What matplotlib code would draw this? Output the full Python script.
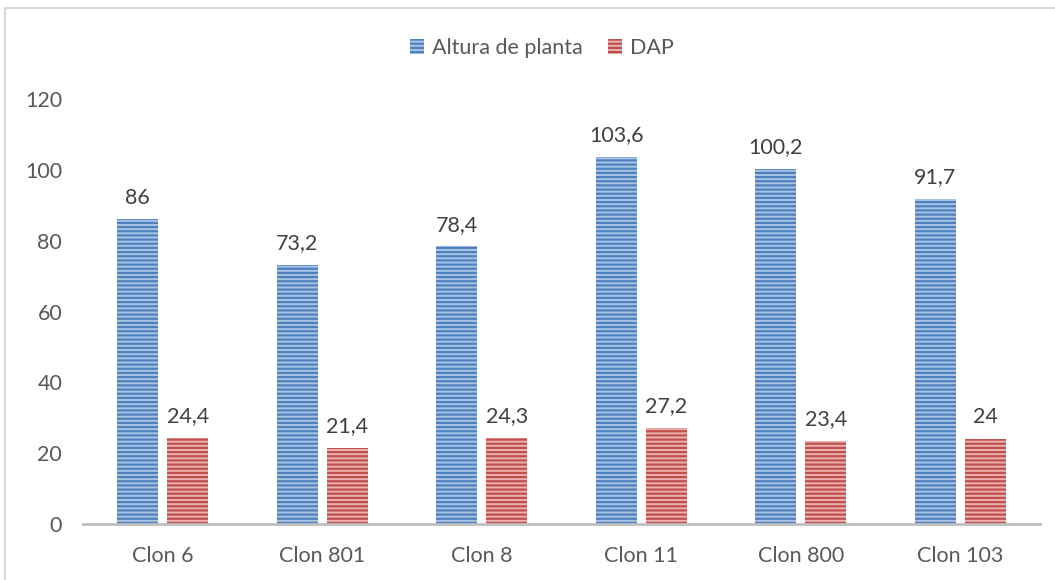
import matplotlib
matplotlib.use('Agg')
import matplotlib.pyplot as plt
import numpy as np
from matplotlib.patches import Rectangle

# datos del grafico
clones = ['Clon 6', 'Clon 801', 'Clon 8', 'Clon 11', 'Clon 800', 'Clon 103']
altura = [86, 73.2, 78.4, 103.6, 100.2, 91.7]
dap = [24.4, 21.4, 24.3, 27.2, 23.4, 24]
etiq_altura = ['86', '73,2', '78,4', '103,6', '100,2', '91,7']
etiq_dap = ['24,4', '21,4', '24,3', '27,2', '23,4', '24']

plt.rcParams['font.family'] = ['Lato', 'DejaVu Sans']
plt.rcParams['hatch.linewidth'] = 1.6
gris = '#595959'

fig = plt.figure(figsize=(10.55, 5.8), dpi=100)
# borde gris del area del grafico
fig.patches.append(Rectangle((5/1055, -0.1), 1.2, 1 - 8/580 + 0.1, transform=fig.transFigure,
                             fill=False, edgecolor='#d9d9d9', linewidth=1.5))
ax = fig.add_axes([83/1055, 1 - 524/580, (1040 - 83)/1055, (524 - 99)/580])

x = np.arange(len(clones))
w = 0.257
sep = 0.056
b1 = ax.bar(x - (w + sep)/2, altura, w, color='#a9c3e6', edgecolor='#4f81bd',
            linewidth=0, hatch='----', label='Altura de planta')
b2 = ax.bar(x + (w + sep)/2, dap, w, color='#ebb1b0', edgecolor='#c0504d',
            linewidth=0, hatch='----', label='DAP')

for i in range(len(clones)):
    ax.text(x[i] - (w + sep)/2, altura[i] + 3.3, etiq_altura[i], ha='center', va='bottom',
            fontsize=15.5, color='#404040')
    ax.text(x[i] + (w + sep)/2, dap[i] + 3.3, etiq_dap[i], ha='center', va='bottom',
            fontsize=15.5, color='#404040')

ax.set_xlim(-0.5, len(clones) - 0.5)
ax.set_ylim(0, 120)
ax.set_yticks(range(0, 121, 20))
ax.set_xticks(x)
ax.set_xticklabels(clones)
ax.tick_params(axis='both', length=0, labelsize=15.5, labelcolor=gris)
ax.tick_params(axis='y', pad=15)
ax.tick_params(axis='x', pad=16)
for s in ['top', 'right', 'left']:
    ax.spines[s].set_visible(False)
ax.spines['bottom'].set_color('#bfbfbf')
ax.spines['bottom'].set_linewidth(2)

leg = fig.legend(handles=[b1, b2], loc='center', bbox_to_anchor=(542/1055, 1 - 48/580), ncol=2,
                 frameon=False, fontsize=15.5, handlelength=0.65, handleheight=0.65,
                 handletextpad=0.35, columnspacing=1.2)
for t in leg.get_texts():
    t.set_color(gris)

fig.savefig('out.png', dpi=100)
